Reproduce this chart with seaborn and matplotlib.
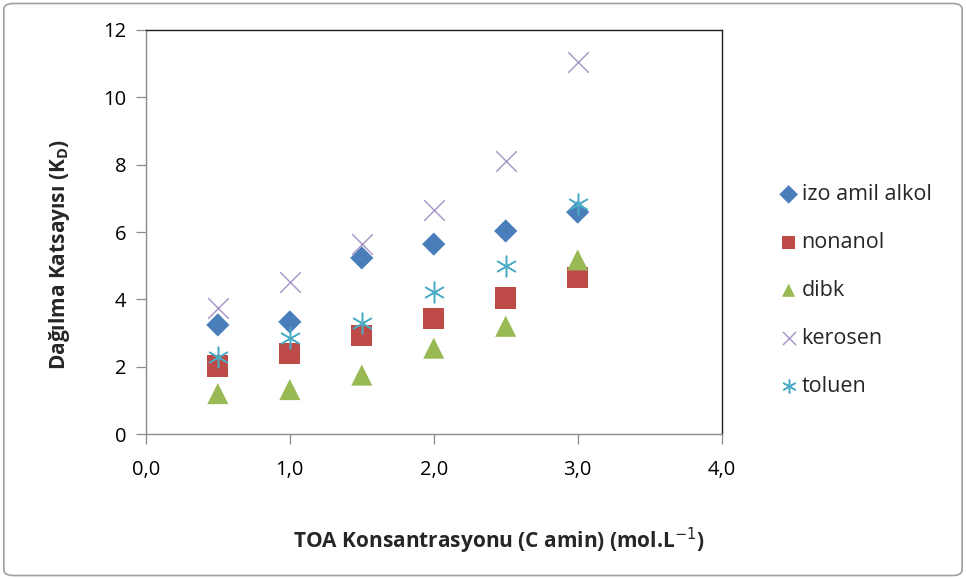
import matplotlib
matplotlib.use("Agg")
import matplotlib.pyplot as plt
import seaborn as sns
import pandas as pd
from matplotlib.patches import FancyBboxPatch

x_vals = [0.5, 1.0, 1.5, 2.0, 2.5, 3.0]
izo_amil_alkol = [3.24, 3.33, 5.23, 5.64, 6.03, 6.59]
nonanol = [2.02, 2.38, 2.94, 3.42, 4.04, 4.66]
dibk = [1.2, 1.32, 1.75, 2.55, 3.2, 5.17]
kerosen = [3.74, 4.51, 5.64, 6.65, 8.11, 11.05]
toluen = [2.29, 2.85, 3.3, 4.22, 4.99, 6.83]
series_names = ["izo amil alkol", "nonanol", "dibk", "kerosen", "toluen"]
x_ticks = [0.0, 1.0, 2.0, 3.0, 4.0]
x_tick_labels = ["0,0", "1,0", "2,0", "3,0", "4,0"]
y_ticks = [0, 2, 4, 6, 8, 10, 12]

sns.set_theme(style="white")
plt.rcParams['font.family'] = ['Open Sans', 'DejaVu Sans']

fig = plt.figure(figsize=(9.66, 5.79), dpi=100)
ax = fig.add_axes([0.151, 0.2504, 0.596, 0.6978])

styles = {
    "izo amil alkol": dict(marker="D", color="#4A7EBB", s=140, edgecolor="none"),
    "nonanol": dict(marker="s", color="#BE4B48", s=230, edgecolor="none"),
    "dibk": dict(marker="^", color="#98B954", s=230, edgecolor="none"),
    "kerosen": dict(marker="x", color="#A99BC9", s=220, linewidth=1.1),
    "toluen": dict(marker=(6, 2, 0), color="#4BACC6", s=220, linewidth=1.1),
}
data = {"izo amil alkol": izo_amil_alkol, "nonanol": nonanol, "dibk": dibk,
        "kerosen": kerosen, "toluen": toluen}

for name in series_names:
    df = pd.DataFrame({"x": x_vals, "y": data[name]})
    st = dict(styles[name])
    sns.scatterplot(data=df, x="x", y="y", ax=ax, label=name, zorder=3, **st)

ax.set_xlim(0, 4)
ax.set_ylim(0, 12)
ax.set_xticks(x_ticks)
ax.set_xticklabels(x_tick_labels)
ax.set_yticks(y_ticks)
ax.tick_params(axis="both", which="both", direction="out", length=7, width=0.9,
               colors="#8C8C8C", labelsize=14.5, labelcolor="black",
               bottom=True, left=True, pad=7)
ax.tick_params(axis="x", pad=12)
for side in ["left", "bottom"]:
    ax.spines[side].set_color("#8C8C8C")
    ax.spines[side].set_linewidth(1.0)
for side in ["top", "right"]:
    ax.spines[side].set_color("#202020")
    ax.spines[side].set_linewidth(1.0)
ax.set_xlabel("TOA Konsantrasyonu (C amin) (mol.L$^{-1}$)", fontsize=15,
              fontweight="bold")
ax.set_ylabel("Dağılma Katsayısı (K$_\\mathregular{D}$)", fontsize=15,
              fontweight="bold")
ax.xaxis.set_label_coords(0.613, -0.228)
ax.yaxis.set_label_coords(-0.128, 0.443)

leg = ax.legend(loc="upper left", bbox_to_anchor=(1.079, 0.64), frameon=False,
                fontsize=15.5, labelspacing=1.25, handletextpad=0.0,
                handlelength=1.2, borderaxespad=0)
for h in leg.legend_handles:
    try:
        h.set_sizes([90])
    except Exception:
        pass

border = FancyBboxPatch((0.004, 0.006), 0.992, 0.988, boxstyle="round,pad=0,rounding_size=0.01",
                        transform=fig.transFigure, fill=False, edgecolor="#A0A0A0",
                        linewidth=1.2)
fig.patches.append(border)

fig.savefig("out.png", dpi=100)
